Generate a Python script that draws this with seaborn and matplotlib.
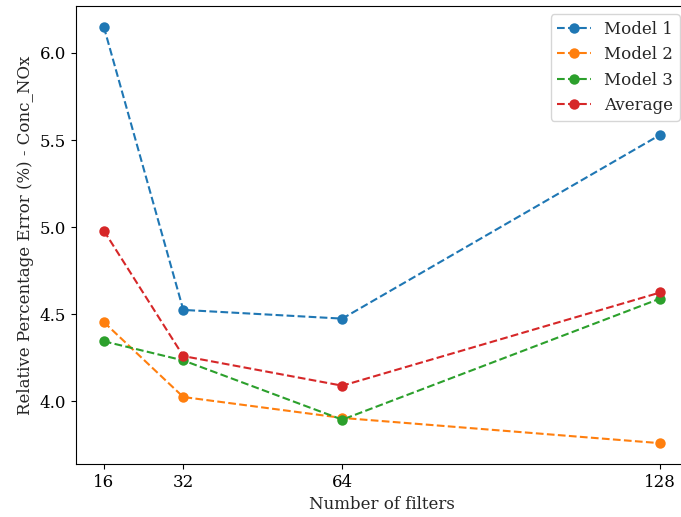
import matplotlib
matplotlib.use("Agg")
import matplotlib.pyplot as plt
import seaborn as sns
import pandas as pd

filters = [16, 32, 64, 128]
model_1 = [6.15, 4.525, 4.475, 5.53]
model_2 = [4.455, 4.025, 3.905, 3.76]
model_3 = [4.345, 4.235, 3.895, 4.59]
average = [4.98, 4.26, 4.09, 4.625]
series_names = ["Model 1", "Model 2", "Model 3", "Average"]
x_ticks = [16, 32, 64, 128]

sns.set_style("ticks")
plt.rcParams["font.family"] = ["DejaVu Serif"]
plt.rcParams["font.size"] = 12

df = pd.DataFrame({
    "filters": filters * 4,
    "error": model_1 + model_2 + model_3 + average,
    "series": [n for n in series_names for _ in filters],
})

W, H = 681, 517
fig = plt.figure(figsize=(W / 100, H / 100), dpi=100)
# the axes run slightly past the right edge of the canvas
ax = fig.add_axes([76 / W, (H - 464) / H, (688 - 76) / W, (464 - 6) / H])

palette = sns.color_palette("tab10", 4)
for name, color in zip(series_names, palette):
    sub = df[df["series"] == name]
    sns.lineplot(data=sub, x="filters", y="error", ax=ax, color=color,
                 linestyle="--", marker="o", markersize=7.5, markeredgewidth=0,
                 linewidth=1.5, label=name)

ax.set_xticks(x_ticks)
ax.set_xticklabels([str(t) for t in x_ticks])
ax.margins(x=0.05, y=0.05)
ax.set_yticks([4.0, 4.5, 5.0, 5.5, 6.0])
ax.set_xlabel("Number of filters")
ax.set_ylabel("Relative Percentage Error (%) - Conc_NOx")
for s in ax.spines.values():
    s.set_color("black")
    s.set_linewidth(0.8)
ax.tick_params(colors="black", length=3.5, width=0.8)
ax.legend(loc="upper right", fontsize=12)

fig.savefig("out.png", dpi=100)
